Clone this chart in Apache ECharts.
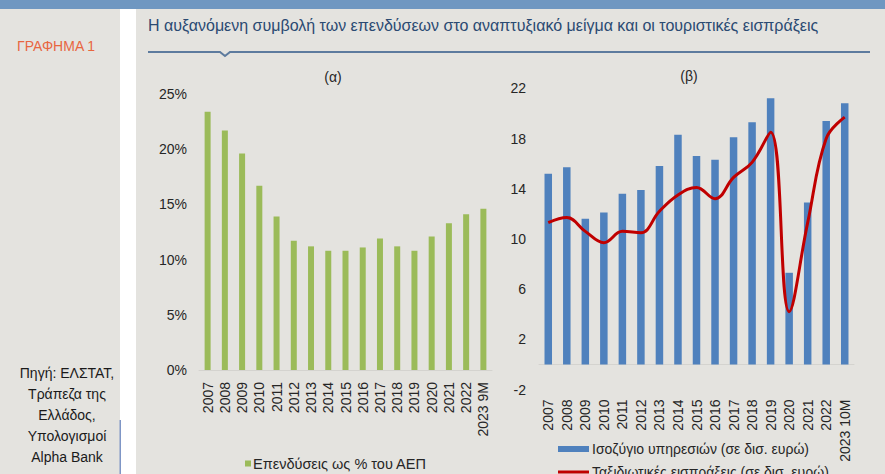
<!DOCTYPE html>
<html>
<head>
<meta charset="utf-8">
<script src="https://cdn.jsdelivr.net/npm/echarts@6/dist/echarts.min.js"></script>
<style>
  html, body { margin: 0; padding: 0; background: #e4e3df; }
  #main { width: 885px; height: 474px; }
</style>
</head>
<body>
<div id="main"></div>
<script>
// γράφημα 1: επενδύσεις (α) και ισοζύγιο υπηρεσιών / ταξιδιωτικές εισπράξεις (β)

var yearsA = ['2007','2008','2009','2010','2011','2012','2013','2014','2015','2016','2017','2018','2019','2020','2021','2022','2023 9M'];
var yearsB = ['2007','2008','2009','2010','2011','2012','2013','2014','2015','2016','2017','2018','2019','2020','2021','2022','2023 10M'];

// επενδύσεις ως % του ΑΕΠ
var investment = [23.4, 21.7, 19.6, 16.7, 13.9, 11.7, 11.2, 10.8, 10.8, 11.1, 11.9, 11.2, 10.8, 12.1, 13.3, 14.1, 14.6];
// ισοζύγιο υπηρεσιών (δισ. ευρώ)
var services = [15.2, 15.7, 11.6, 12.1, 13.6, 13.9, 15.8, 18.3, 16.6, 16.3, 18.1, 19.3, 21.2, 7.3, 12.9, 19.4, 20.8];
// ταξιδιωτικές εισπράξεις (δισ. ευρώ)
var travel = [11.3, 11.7, 10.6, 9.7, 10.6, 10.5, 12.2, 13.5, 14.1, 13.2, 14.9, 16.1, 18.5, 4.2, 11.3, 18.0, 19.7];

var ticksA = [0, 25, 5];   // min, max, interval
var ticksB = [-2, 22, 4];

var font = 'Liberation Sans, Arial, sans-serif';
var txt = '#262626';

var chart = echarts.init(document.getElementById('main'), null, {renderer: 'svg'});

var option = {
    backgroundColor: '#e4e3df',
    animation: false,
    textStyle: {fontFamily: font},
    title: [
        {text: '(α)', left: 328, top: 65, textAlign: 'center',
         textStyle: {fontSize: 14, fontWeight: 'normal', color: txt}},
        {text: '(β)', left: 684, top: 64, textAlign: 'center',
         textStyle: {fontSize: 14, fontWeight: 'normal', color: txt}}
    ],
    graphic: [
        // πάνω μπλε λωρίδα
        {type: 'rect', left: 0, top: 0, z: -10, shape: {width: 885, height: 9}, style: {fill: '#6f97c1'}},
        // λευκή κάθετη λωρίδα
        {type: 'rect', left: 120, top: 9, z: -10, shape: {width: 16, height: 465}, style: {fill: '#ffffff'}},
        {type: 'rect', left: 119.5, top: 420, z: -9, shape: {width: 1.5, height: 54}, style: {fill: '#7f96c6'}},
        {type: 'text', left: 17, top: 39, style: {text: 'ΓΡΑΦΗΜΑ 1', fill: '#e8663f', fontSize: 14, fontFamily: font}},
        {type: 'text', left: 148, top: 17,
         style: {text: 'Η αυξανόμενη συμβολή των επενδύσεων στο αναπτυξιακό μείγμα και οι τουριστικές εισπράξεις',
                 fill: '#2b4a72', fontSize: 16, fontFamily: font}},
        {type: 'polyline', z: -5,
         shape: {points: [[148, 52], [220, 52], [225, 56], [230, 52], [870, 52]]},
         style: {stroke: '#5d7b9e', lineWidth: 2, fill: null}},
        {type: 'text', z: 5,
         style: {x: 67, y: 362, text: 'Πηγή: ΕΛΣΤΑΤ,\nΤράπεζα της\nΕλλάδος,\nΥπολογισμοί\nAlpha Bank',
                 fill: '#1a1a1a', fontSize: 14, lineHeight: 21, align: 'center', verticalAlign: 'top',
                 fontFamily: font}}
    ],
    legend: [
        {left: 240, top: 451, icon: 'rect', itemWidth: 6, itemHeight: 6,
         data: ['Επενδύσεις ως % του ΑΕΠ'],
         textStyle: {fontSize: 14.5, color: txt, padding: [0, 0, 0, -3]}},
        {left: 553, top: 437, icon: 'rect', itemWidth: 31, itemHeight: 6,
         data: ['Ισοζύγιο υπηρεσιών (σε δισ. ευρώ)'],
         textStyle: {fontSize: 14, color: txt, padding: [0, 0, 0, -2]}},
        {left: 553, top: 460, icon: 'rect', itemWidth: 31, itemHeight: 3,
         data: ['Ταξιδιωτικές εισπράξεις (σε δισ. ευρώ)'],
         textStyle: {fontSize: 14, color: txt, padding: [0, 0, 0, -2]}}
    ],
    grid: [
        {left: 199, top: 94, width: 293, height: 276},
        {left: 539, top: 88.3, width: 315, height: 301.2}
    ],
    xAxis: [
        {type: 'category', gridIndex: 0, data: yearsA,
         axisLine: {lineStyle: {color: '#d4d3cf'}}, axisTick: {show: false},
         axisLabel: {rotate: 90, interval: 0, margin: 12, fontSize: 14, color: txt}},
        {type: 'category', gridIndex: 1, data: yearsB,
         axisLine: {onZero: true, lineStyle: {color: '#d4d3cf'}}, axisTick: {show: false},
         axisLabel: {rotate: 90, interval: 0, margin: 10, fontSize: 14, color: txt}}
    ],
    yAxis: [
        {type: 'value', gridIndex: 0, min: ticksA[0], max: ticksA[1], interval: ticksA[2],
         splitLine: {show: false}, axisLine: {show: false}, axisTick: {show: false},
         axisLabel: {formatter: '{value}%', fontSize: 14, color: txt, margin: 12}},
        {type: 'value', gridIndex: 1, min: ticksB[0], max: ticksB[1], interval: ticksB[2],
         splitLine: {show: false}, axisLine: {show: false}, axisTick: {show: false},
         axisLabel: {fontSize: 14, color: txt, margin: 13}}
    ],
    series: [
        {name: 'Επενδύσεις ως % του ΑΕΠ', type: 'bar', xAxisIndex: 0, yAxisIndex: 0,
         data: investment, barWidth: 6, itemStyle: {color: '#9bbb59'}},
        {name: 'Ισοζύγιο υπηρεσιών (σε δισ. ευρώ)', type: 'bar', xAxisIndex: 1, yAxisIndex: 1,
         data: services, barWidth: 7.5, itemStyle: {color: '#4f81bd'}},
        {name: 'Ταξιδιωτικές εισπράξεις (σε δισ. ευρώ)', type: 'line', xAxisIndex: 1, yAxisIndex: 1,
         data: travel, smooth: 0.4, symbol: 'none',
         lineStyle: {color: '#c00000', width: 3}, itemStyle: {color: '#c00000'}}
    ]
};

chart.setOption(option);
</script>
</body>
</html>
